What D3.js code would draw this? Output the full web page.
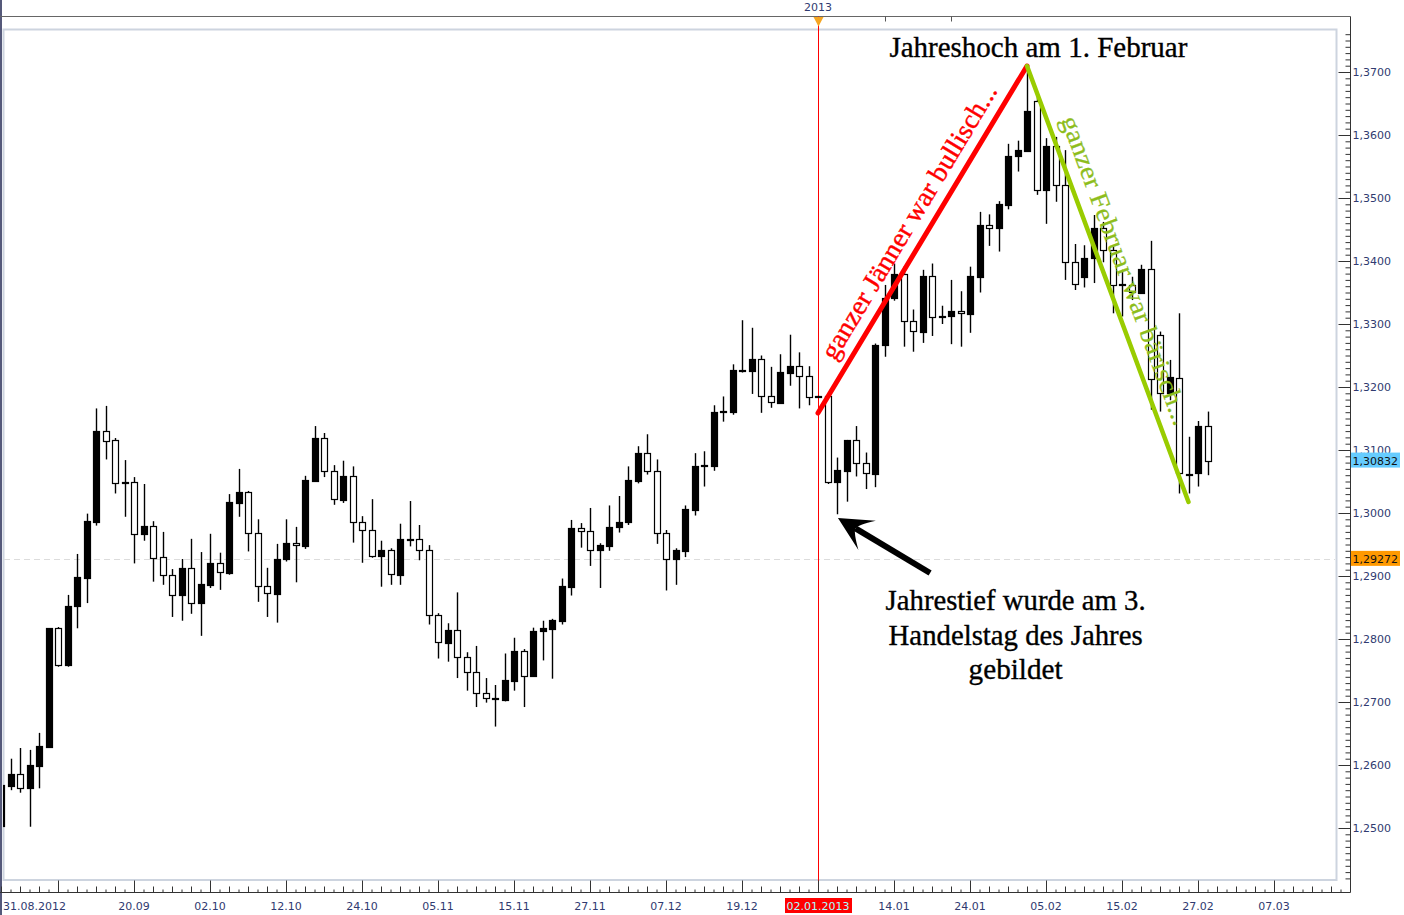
<!DOCTYPE html>
<html><head><meta charset="utf-8">
<script src="https://cdn.jsdelivr.net/npm/d3@7"></script>
<style>body{margin:0;background:#fff}svg{display:block}</style>
</head><body>
<script>
// ---- data (EUR/USD daily candles, 31.08.2012 - 28.02.2013) ----
const open=[
1.2503,1.2567,1.2585,1.2563,1.2599,1.2629,1.2817,1.2758,1.2853,1.2897,
1.2986,1.3130,1.3116,1.3047,1.3049,1.2967,1.2979,1.2930,1.2901,1.2870,
1.2912,1.2857,1.2886,1.2921,1.2905,1.3016,1.3033,1.2968,1.2884,1.2872,
1.2927,1.2953,1.2948,1.3051,1.3119,1.3066,1.3021,1.3058,1.2985,1.2973,
1.2932,1.2941,1.2902,1.2959,1.2959,1.2942,1.2838,1.2794,1.2814,1.2771,
1.2747,1.2714,1.2707,1.2703,1.2734,1.2781,1.2741,1.2812,1.2816,1.2829,
1.2883,1.2976,1.2971,1.2942,1.2948,1.2977,1.2985,1.3051,1.3095,1.3066,
1.2969,1.2927,1.2940,1.3005,1.3075,1.3075,1.3161,1.3160,1.3227,1.3226,
1.3244,1.3185,1.3175,1.3223,1.3234,1.3217,1.3184,1.3185,1.3049,1.3067,
1.3116,1.3080,1.3062,1.3266,1.3342,1.3380,1.3305,1.3288,1.3376,1.3311,
1.3312,1.3321,1.3316,1.3375,1.3457,1.3453,1.3489,1.3566,1.3575,1.3654,
1.3512,1.3583,1.3520,1.3398,1.3375,1.3404,1.3452,1.3417,1.3362,1.3362,
1.3350,1.3388,1.3283,1.3190,1.3215,1.3061,1.3063,1.3138];
const close=[
1.2568,1.2585,1.2563,1.2600,1.2630,1.2817,1.2758,1.2853,1.2898,1.2987,
1.3130,1.3115,1.3047,1.3049,1.2967,1.2979,1.2929,1.2901,1.2870,1.2912,
1.2857,1.2887,1.2921,1.2906,1.3017,1.3033,1.2968,1.2884,1.2873,1.2927,
1.2953,1.2949,1.3052,1.3119,1.3066,1.3022,1.3058,1.2985,1.2973,1.2932,
1.2941,1.2903,1.2959,1.2958,1.2942,1.2838,1.2795,1.2814,1.2771,1.2747,
1.2714,1.2707,1.2704,1.2735,1.2781,1.2742,1.2813,1.2817,1.2830,1.2884,
1.2976,1.2971,1.2942,1.2949,1.2977,1.2985,1.3052,1.3095,1.3066,1.2969,
1.2927,1.2941,1.3006,1.3075,1.3076,1.3161,1.3162,1.3227,1.3225,1.3244,
1.3185,1.3176,1.3224,1.3234,1.3217,1.3184,1.3185,1.3049,1.3068,1.3116,
1.3080,1.3063,1.3267,1.3342,1.3380,1.3305,1.3289,1.3376,1.3311,1.3312,
1.3321,1.3317,1.3376,1.3457,1.3453,1.3490,1.3567,1.3576,1.3638,1.3513,
1.3583,1.3520,1.3398,1.3363,1.3404,1.3452,1.3417,1.3362,1.3363,1.3351,
1.3388,1.3213,1.3190,1.3216,1.3063,1.3062,1.3138,1.30832];
const high=[
1.2570,1.2610,1.2627,1.2624,1.2651,1.2817,1.2819,1.2870,1.2935,1.2999,
1.3166,1.3170,1.3119,1.3084,1.3057,1.3046,1.2987,1.2970,1.2911,1.2927,
1.2959,1.2938,1.2967,1.2937,1.3030,1.3070,1.3035,1.2990,1.2913,1.2951,
1.2990,1.2978,1.3059,1.3138,1.3127,1.3076,1.3083,1.3074,1.2995,1.3022,
1.2956,1.2944,1.2983,1.3019,1.2981,1.2949,1.2841,1.2825,1.2874,1.2779,
1.2789,1.2738,1.2727,1.2777,1.2802,1.2784,1.2818,1.2829,1.2832,1.2896,
1.2989,1.2984,1.3008,1.2952,1.3012,1.3027,1.3074,1.3106,1.3125,1.3085,
1.2973,1.2944,1.3012,1.3095,1.3098,1.3171,1.3185,1.3236,1.3306,1.3294,
1.3250,1.3232,1.3252,1.3283,1.3255,1.3233,1.3186,1.3186,1.3088,1.3116,
1.3138,1.3096,1.3269,1.3362,1.3396,1.3392,1.3323,1.3386,1.3396,1.3329,
1.3370,1.3352,1.3391,1.3478,1.3474,1.3495,1.3586,1.3591,1.3708,1.3662,
1.3595,1.3597,1.3576,1.3427,1.3425,1.3473,1.3462,1.3423,1.3386,1.3375,
1.3394,1.3432,1.3288,1.3243,1.3317,1.3121,1.3146,1.3161];
const low=[
1.2503,1.2560,1.2556,1.2502,1.2563,1.2627,1.2756,1.2756,1.2817,1.2857,
1.2980,1.3085,1.3031,1.2994,1.2920,1.2956,1.2891,1.2886,1.2835,1.2829,
1.2840,1.2805,1.2881,1.2878,1.2902,1.2994,1.2939,1.2859,1.2835,1.2826,
1.2923,1.2890,1.2943,1.3051,1.3057,1.3013,1.3016,1.2953,1.2921,1.2929,
1.2883,1.2886,1.2886,1.2947,1.2925,1.2823,1.2769,1.2764,1.2738,1.2718,
1.2692,1.2699,1.2661,1.2701,1.2718,1.2692,1.2740,1.2766,1.2737,1.2823,
1.2869,1.2945,1.2916,1.2881,1.2940,1.2969,1.2981,1.3047,1.3061,1.2951,
1.2877,1.2886,1.2930,1.2996,1.3042,1.3067,1.3145,1.3156,1.3223,1.3189,
1.3159,1.3167,1.3173,1.3202,1.3166,1.3171,1.3183,1.3046,1.2998,1.3018,
1.3058,1.3038,1.3041,1.3248,1.3337,1.3264,1.3256,1.3270,1.3281,1.3300,
1.3268,1.3264,1.3286,1.3350,1.3424,1.3415,1.3482,1.3542,1.3575,1.3505,
1.3459,1.3494,1.3370,1.3354,1.3358,1.3365,1.3398,1.3317,1.3312,1.3338,
1.3349,1.3164,1.3161,1.3179,1.3031,1.3031,1.3042,1.3060];

// x-axis labels (candle index -> label)
const dateLabels=['31.08.2012','20.09','02.10','12.10','24.10','05.11','15.11','27.11','07.12','19.12','02.01.2013','14.01','24.01','05.02','15.02','27.02','07.03'];
const dateIdx=[0,14,22,30,38,46,54,62,70,78,86,94,102,110,118,126,134];
const majorIdx=[6,14,22,30,38,46,54,62,70,78,86,94,102,110,118,126,134];
const topTickIdx=[93,100];
const yTicks=[1.25,1.26,1.27,1.28,1.29,1.30,1.31,1.32,1.33,1.34,1.35,1.36,1.37];
const lastPrice=1.30832, refPrice=1.29272;
const yearIdx=86, yearLabel='2013';

// annotations (in data units: candle index, price)
const upTrend=[[86,1.31587],[108,1.37095]];
const downTrend=[[108,1.37095],[125,1.30175]];
const arrowPts=[[97.8,1.29048],[88.1,1.29921]];

// ---- drawing ----
const W=1404,H=915;
const svg=d3.select('body').append('svg').attr('width',W).attr('height',H)
  .style('font-family','"DejaVu Sans",Verdana,sans-serif');
const x=d3.scaleLinear().domain([0,1]).range([1,10.5]);
const y=d3.scaleLinear().domain([1.25,1.37]).range([828,72]);
const P={l:3,t:30,r:1336,b:880};
const axX=1350.5, axY=892.5, topY=16.5;
const navy='#303a70';

svg.append('defs').append('clipPath').attr('id','clip').append('rect')
  .attr('x',P.l).attr('y',P.t).attr('width',P.r-P.l).attr('height',P.b-P.t);

// left dark border
svg.append('rect').attr('x',0).attr('y',0).attr('width',2).attr('height',H).attr('fill','#55597a');

// plot frame
svg.append('rect').attr('x',P.l+0.5).attr('y',P.t-0.5).attr('width',P.r-P.l).attr('height',P.b-P.t+0.5)
  .attr('fill','none').attr('stroke','#cdd4df').attr('stroke-width',2);

// reference dashed line
svg.append('line').attr('x1',P.l+1).attr('x2',P.r-1).attr('y1',Math.round(y(refPrice))+0.5).attr('y2',Math.round(y(refPrice))+0.5)
  .attr('stroke','#dcdcdc').attr('stroke-dasharray','6,4');

// top strip
svg.append('line').attr('x1',0).attr('x2',axX).attr('y1',topY).attr('y2',topY).attr('stroke','#666').attr('stroke-width',1);
svg.selectAll('line.tt').data(topTickIdx).join('line').attr('class','tt')
  .attr('x1',d=>Math.round(x(d))+0.5).attr('x2',d=>Math.round(x(d))+0.5).attr('y1',topY).attr('y2',topY+5).attr('stroke','#555');
svg.append('text').attr('x',x(yearIdx)).attr('y',11).attr('text-anchor','middle').attr('font-size',11).attr('fill',navy).text(yearLabel);

// year separator red vertical line
const tx=Math.round(x(yearIdx))+0.5;
svg.append('line').attr('x1',tx).attr('x2',tx).attr('y1',topY).attr('y2',axY)
  .attr('stroke','#ff0000').attr('stroke-width',1);
svg.append('path').attr('d',`M${tx-5},${topY+0.5}L${tx+5},${topY+0.5}L${tx},${topY+10}Z`).attr('fill','#f5a623');

// candles
const data=open.map((o,i)=>({i,o,c:close[i],h:high[i],l:low[i]}));
const cg=svg.append('g').attr('clip-path','url(#clip)');
cg.selectAll('line.w').data(data).join('line').attr('class','w')
  .attr('x1',d=>Math.round(x(d.i))+0.5).attr('x2',d=>Math.round(x(d.i))+0.5)
  .attr('y1',d=>y(d.h)).attr('y2',d=>y(d.l)).attr('stroke','#000').attr('stroke-width',1.4);
cg.selectAll('rect.b').data(data).join('rect').attr('class','b')
  .attr('x',d=>Math.round(x(d.i))-2.5).attr('width',6)
  .attr('y',d=>Math.round(y(Math.max(d.o,d.c)))+0.5)
  .attr('height',d=>Math.max(1,Math.round(y(Math.min(d.o,d.c)))-Math.round(y(Math.max(d.o,d.c)))))
  .attr('fill',d=>d.c>d.o?'#000':'#fff').attr('stroke','#000').attr('stroke-width',1.2);

// right axis
svg.append('line').attr('x1',axX).attr('x2',axX).attr('y1',topY).attr('y2',axY).attr('stroke','#333');
const minorY=d3.range(1242,1377).map(v=>v/1000);
const ax1=svg.append('g').attr('transform',`translate(${axX},0)`)
  .call(d3.axisRight(y).tickValues(minorY.filter(v=>Math.round(v*1000)%10!==0)).tickSize(-5).tickFormat(''));
const ax2=svg.append('g').attr('transform',`translate(${axX},0)`)
  .call(d3.axisRight(y).tickValues(yTicks).tickSize(-12).tickPadding(2)
  .tickFormat(d=>d3.format('.4f')(d).replace('.',',')));
[ax1,ax2].forEach(a=>{a.select('.domain').remove();a.selectAll('line').attr('stroke','#333');});
ax2.selectAll('text').attr('fill',navy).attr('font-size',11).style('font-family','"DejaVu Sans",Verdana,sans-serif');

// price tags
function tag(v,col){
  const yy=y(v);
  svg.append('rect').attr('x',axX+0.5).attr('y',yy-8).attr('width',49).attr('height',15).attr('fill',col);
  svg.append('text').attr('x',axX+2).attr('y',yy+4).attr('font-size',11).attr('fill','#111')
    .text(d3.format('.5f')(v).replace('.',','));
}
tag(lastPrice,'#66ccff');
tag(refPrice,'#ff9900');

// bottom axis
svg.append('line').attr('x1',0).attr('x2',axX).attr('y1',axY).attr('y2',axY).attr('stroke','#333');
const minorX=d3.range(0,142).filter(i=>!majorIdx.includes(i));
const bx1=svg.append('g').attr('transform',`translate(0,${axY})`)
  .call(d3.axisBottom(x).tickValues(minorX).tickSize(-3).tickFormat(''));
bx1.selectAll('.tick line').attr('y2',d=>(d%2===0)?-6:-3);
const bx2=svg.append('g').attr('transform',`translate(0,${axY})`)
  .call(d3.axisBottom(x).tickValues(majorIdx).tickSize(-12).tickFormat(''));
[bx1,bx2].forEach(a=>{a.select('.domain').remove();a.selectAll('line').attr('stroke','#333');});
bx1.selectAll('.tick').filter(d=>x(d)>axX-2).remove();
const lab=svg.append('g');
dateLabels.forEach((t,k)=>{
  const xx=k===0?P.l:x(dateIdx[k]);
  const anchor=k===0?'start':'middle';
  if(dateIdx[k]===yearIdx){
    lab.append('rect').attr('x',xx-33).attr('y',898).attr('width',67).attr('height',15).attr('fill','#ff0000');
  }
  lab.append('text').attr('x',xx).attr('y',910).attr('text-anchor',anchor).attr('font-size',11)
    .attr('fill',dateIdx[k]===yearIdx?'#a8ffff':navy).text(t);
});

// trend lines
const pt=p=>[x(p[0]),y(p[1])];
const line=d3.line();
svg.append('path').attr('d',line(upTrend.map(pt))).attr('stroke','#ff0000').attr('stroke-width',5).attr('fill','none').attr('stroke-linecap','round');
svg.append('path').attr('d',line(downTrend.map(pt))).attr('stroke','#99cc00').attr('stroke-width',4.5).attr('fill','none').attr('stroke-linecap','round');

function alongText(seg,txt,opts){
  const [a,b]=seg.map(pt);
  const dx=b[0]-a[0],dy=b[1]-a[1],L=Math.hypot(dx,dy);
  const u=[dx/L,dy/L];
  const ang=Math.atan2(dy,dx)*180/Math.PI;
  const r=ang*Math.PI/180;
  const up=[Math.sin(r),-Math.cos(r)];
  const px=a[0]+u[0]*opts.start+up[0]*opts.off, py=a[1]+u[1]*opts.start+up[1]*opts.off;
  svg.append('text').attr('transform',`translate(${px},${py}) rotate(${ang})`)
    .attr('font-size',opts.size).attr('fill',opts.color)
    .style('font-family','"Liberation Serif","Times New Roman",serif')
    .attr('textLength',opts.len).attr('lengthAdjust','spacingAndGlyphs')
    .attr('stroke',opts.color).attr('stroke-width',opts.sw||0)
    .text(txt);
}
alongText(upTrend,'ganzer Jänner war bullisch...',{start:53,off:12,size:27,len:316,color:'#ff0000',sw:0.4});
alongText(downTrend,'ganzer Februar war bärisch...',{start:62,off:13,size:26,len:328,color:'#8dbd1c',sw:0.25});

// arrow
{
  const [t0,t1]=arrowPts.map(pt);
  const dx=t1[0]-t0[0],dy=t1[1]-t0[1],L=Math.hypot(dx,dy);
  const u=[dx/L,dy/L], n=[-u[1],u[0]];
  const HL=34,HW=17;
  const base=[t1[0]-u[0]*HL,t1[1]-u[1]*HL];
  const notch=[t1[0]-u[0]*HL*0.6,t1[1]-u[1]*HL*0.6];
  svg.append('line').attr('x1',t0[0]).attr('y1',t0[1]).attr('x2',notch[0]).attr('y2',notch[1])
    .attr('stroke','#000').attr('stroke-width',6);
  const b1=[base[0]+n[0]*HW,base[1]+n[1]*HW], b2=[base[0]-n[0]*HW,base[1]-n[1]*HW];
  svg.append('path').attr('d',`M${t1[0]},${t1[1]}L${b1[0]},${b1[1]}Q${notch[0]+n[0]*4},${notch[1]+n[1]*4} ${notch[0]},${notch[1]}Q${notch[0]-n[0]*4},${notch[1]-n[1]*4} ${b2[0]},${b2[1]}Z`).attr('fill','#000');
}

// text annotations
const serif='"Liberation Serif","Times New Roman",serif';
function note(idx,val,txt,len){
  svg.append('text').attr('x',x(idx)).attr('y',y(val)).attr('text-anchor','middle')
    .attr('font-size',29).style('font-family',serif).attr('fill','#000').attr('stroke','#000').attr('stroke-width',0.35)
    .attr('textLength',len).attr('lengthAdjust','spacingAndGlyphs').text(txt);
}
note(109.2,1.37238,'Jahreshoch am 1. Februar',298);
note(106.8,1.28460,'Jahrestief wurde am 3.',260);
note(106.8,1.27905,'Handelstag des Jahres',254);
note(106.8,1.27365,'gebildet',94);
</script>
</body></html>
